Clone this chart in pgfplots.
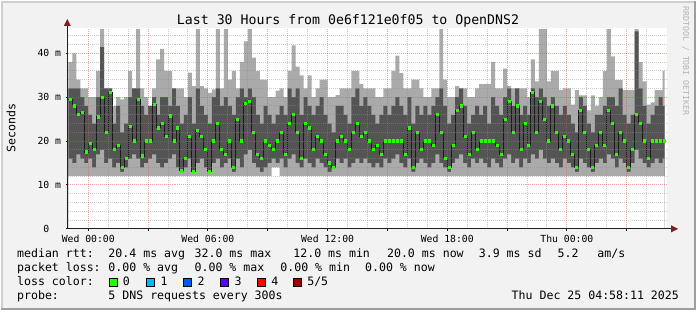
\documentclass[border=0pt]{standalone}
\usepackage{fontspec}
\setmainfont{DejaVu Sans Mono}
\usepackage{pgfplots}
\pgfplotsset{compat=1.18}
\usepackage{pgfplotstable}
\definecolor{bgc}{HTML}{F2F2F2}
\definecolor{shadea}{HTML}{CFCFCF}
\definecolor{shadeb}{HTML}{9E9E9E}
\definecolor{lightsmoke}{HTML}{AAAAAA}
\definecolor{darksmoke}{HTML}{545454}
\definecolor{medline}{HTML}{1A1A1A}
\definecolor{majgrid}{HTML}{DE4F4F}
\definecolor{mingrid}{HTML}{8F8F8F}
\definecolor{arrowc}{HTML}{801F1F}
\definecolor{axisc}{HTML}{1F1F1F}
\definecolor{lc0}{HTML}{26FF00}
\definecolor{lc1}{HTML}{00B8FF}
\definecolor{lc2}{HTML}{0059FF}
\definecolor{lc3}{HTML}{5E00FF}
\definecolor{lc4}{HTML}{FF0000}
\definecolor{lc5}{HTML}{A00000}
\definecolor{rrdtxt}{HTML}{B4B4B4}

\pgfplotstableread{
x lo q2 med q4 hi
-1.0 12 16 29.5 32 38
-0.8 12 15 28 32 40
-0.6 12 17 26 32 34
-0.4 12 16 26.5 30 32
-0.2 12 15 17.5 28 32
0.0 12 16 19.5 26 30
0.2 12 14 18 24 30
0.4 12 17 25.5 30 36
0.6 12 18 30 41.4 45.5
0.8 12 15 22 32 32
1.0 12 16 31 32 32
1.2 12 14 18 24 28
1.4 12 15 19 28 30
1.6 12 13 14 22 29.5
1.8 12 14 16 24 30
2.0 12 16 23.4 30 36
2.2 12 17 20 32 32
2.4 12 16 29.5 32 45.5
2.6 12 14 16.6 28 32
2.8 12 15 20 26 30
3.0 12 16 20 28 28
3.2 12 17 28.4 30 32
3.4 12 15 23 26 38.6
3.6 12 14 24 30 41
3.8 12 15 21 30 36
4.0 12 16 25.7 28 36
4.2 12 17 20 32 32
4.4 12 14 23 28 32
4.6 12 13 13.2 24 32
4.8 12 14 16 26 30
5.0 12 16 21 30 35.6
5.2 12 13 13 24 32.5
5.4 12 15 22.5 32 45.5
5.6 12 16 21 28 32.5
5.8 12 14 18 26 32
6.0 12 13 13 24 31
6.2 12 15 20 30 31.8
6.4 12 16 24 32 45.5
6.6 12 14 18 28 32
6.8 12 15 17 30 45.5
7.0 12 16 20 28 34
7.2 12 13 14 26 36
7.4 12 16 25 30 32
7.6 12 14 20 32 38
7.8 12 17 28.5 30 42.7
8.0 12 18 29 32 45.5
8.2 12 15 22 30 39
8.4 12 14 17 26 36
8.6 12 13 16 24 34
8.8 12 14 20 28 34
9.0 12 15 19 26 30
9.2 14 16 18 24 30
9.4 14 15 20 26 31.5
9.6 12 16 22 28 32
9.8 12 14 17 26 30
10.0 12 16 24 32 36
10.2 12 17 26 30 41.8
10.4 12 15 22 32 37
10.6 12 14 16 26 35
10.8 12 16 24 30 32
11.0 12 15 23 28 35
11.2 12 14 18 26 30
11.4 12 16 21 28 32
11.6 12 15 20 30 34
11.8 12 14 17 26 34
12.0 12 13 15 24 30
12.2 12 14 14 22 30
12.4 12 16 20 28 30.5
12.6 12 15 21 28 32
12.8 12 16 20 26 32
13.0 12 14 18 24 32
13.2 12 15 22 30 36
13.4 12 16 24 32 36
13.6 12 15 21 28 33
13.8 12 16 22 30 32
14.0 12 15 20 28 32
14.2 12 14 18 26 32
14.4 12 15 19 24 30
14.6 12 14 17 26 30
14.8 12 16 20 28 32
15.0 12 15 20 26 32
15.2 12 16 20 28 36
15.4 12 17 20 30 39.5
15.6 12 15 20 28 35.5
15.8 12 14 17 26 32
16.0 12 16 23 30 32
16.2 12 13 14 24 34
16.4 12 15 22 28 34
16.6 12 16 18 26 32
16.8 12 15 20 28 30
17.0 12 14 20 26 30
17.2 12 15 19 28 32
17.4 12 17 26 30 32
17.6 12 15 22 32 45.5
17.8 12 14 16 28 34
18.0 12 13 14 24 30
18.2 12 15 19 26 30
18.4 12 16 27 30 32.5
18.6 12 17 28 32 32
18.8 12 15 21 28 32
19.0 12 14 17 24 30
19.2 12 16 22 26 30
19.4 12 15 18 28 32
19.6 12 16 20 26 33
19.8 12 15 20 28 33
20.0 12 14 20 24 33
20.2 12 16 20 30 38
20.4 12 15 19 28 32
20.6 12 14 17 26 32
20.8 12 16 25 30 36.5
21.0 12 17 29 32 32.5
21.2 12 15 22 28 32
21.4 12 16 28 32 32
21.6 12 14 18 26 32
21.8 12 16 24 28 32
22.0 12 15 19 26 30
22.2 12 17 31 32 38.6
22.4 12 16 22 30 33.6
22.6 12 18 29 32 45.5
22.8 12 16 25 30 45.5
23.0 12 15 20 28 33.6
23.2 12 16 28 30 36
23.4 12 15 22 28 36
23.6 12 14 18 26 31.6
23.8 12 16 21 28 32
24.0 12 15 20 26 32
24.2 12 14 17 24 28.3
24.4 12 13 14 22 31.6
24.6 12 16 27 30 30.4
24.8 12 15 22 28 30.4
25.0 12 14 18 24 27
25.2 12 13 14 22 30.4
25.4 12 15 19 26 28
25.6 12 16 22 26 30
25.8 12 15 19 28 36
26.0 12 17 27 30 45.5
26.2 12 16 24 30 39.3
26.4 12 14 17 28 33.9
26.6 12 16 22 32 33.9
26.8 12 15 20 26 31.6
27.0 12 13 14 24 31.6
27.2 12 15 18 26 31.6
27.4 12 18 26 45 45.5
27.6 12 16 24 32 38
27.8 12 15 20 28 33.6
28.0 12 14 16 24 28.3
28.2 12 15 20 26 28.8
28.4 12 16 20 28 31.6
28.6 12 15 20 30 31.6
28.8 12 16 20 28 36
28.9 12 16 20 28 36
}\smoke

\newcommand{\lgfont}{\fontsize{11.6bp}{12bp}\selectfont}
\begin{document}
\begin{tikzpicture}[x=1bp,y=1bp]
\fill[bgc] (0,0) rectangle (697,310);
\draw[shadea, line width=2bp] (1,0) -- (1,309) -- (697,309);
\draw[shadeb, line width=2bp] (0,1) -- (696,1) -- (696,310);
\begin{axis}[
  at={(67.5bp,81.5bp)}, anchor=south west, scale only axis,
  width=600bp, height=201bp,
  xmin=-1, xmax=29, ymin=0, ymax=45.68,
  axis background/.style={fill=white},
  axis line style={draw=none},
  axis on top,
  xtick={0,3,6,9,12,15,18,21,24,27},
  xticklabels={Wed 00:00,,Wed 06:00,,Wed 12:00,,Wed 18:00,,Thu 00:00,},
  minor xtick={1,2,4,5,7,8,10,11,13,14,16,17,19,20,22,23,25,26,28},
  ytick={0,10,20,30,40},
  yticklabels={0\hphantom{00},10 m,20 m,30 m,40 m},
  minor ytick={2,4,6,8,12,14,16,18,22,24,26,28,32,34,36,38,42,44},
  xmajorgrids=true, xminorgrids=true, ymajorgrids=true, yminorgrids=true,
  major grid style={majgrid, opacity=0.5, line width=1bp, dash pattern=on 1bp off 1bp, dash phase=0.5bp},
  minor grid style={mingrid, opacity=0.45, line width=1bp, dash pattern=on 1bp off 1bp, dash phase=0.5bp},
  xtick pos=left, ytick pos=left,
  tick align=outside, major tick length=2bp, minor tick length=0bp,
  tick style={axisc, line width=1bp},
  ticklabel style={font=\fontsize{9.8bp}{11bp}\selectfont, inner sep=0pt},
  xticklabel style={anchor=base, yshift=-11.7bp},
  yticklabel style={anchor=base east, xshift=-5bp, yshift=-3.6bp},
  clip=true,
]
\addplot[const plot, fill=lightsmoke, draw=none] table[x=x, y=hi] {\smoke} \closedcycle;
\addplot[const plot, fill=darksmoke, draw=none] table[x=x, y=q4] {\smoke} \closedcycle;
\addplot[const plot, fill=lightsmoke, draw=none] table[x=x, y=q2] {\smoke} \closedcycle;
\addplot[const plot, fill=white, draw=none] table[x=x, y=lo] {\smoke} \closedcycle;
\addplot[const plot, medline, line width=1bp] table[x=x, y=med] {\smoke};
\addplot[only marks, mark=-, mark size=1.5bp, mark options={draw=lc0, line width=3.2bp},
  skip coords between index={150}{151}] table[x expr=\thisrow{x}+0.1, y=med] {\smoke};
\end{axis}
% axes with arrows
\draw[axisc, line width=1bp] (66.5,81.5) -- (673,81.5);
\fill[arrowc] (679,81.5) -- (672,85) -- (672,78) -- cycle;
\draw[axisc, line width=1bp] (66.5,81.5) -- (66.5,285);
\fill[arrowc] (66.5,292) -- (63,285) -- (70,285) -- cycle;
% title
\node[anchor=base, inner sep=0pt, font=\fontsize{13.25bp}{14bp}\selectfont] at (348,286) {Last 30 Hours from 0e6f121e0f05 to OpenDNS2};
\node[rotate=90, inner sep=0pt, font=\lgfont] at (10,183) {Seconds};
\node[rotate=-90, inner sep=0pt, text=rrdtxt, font=\fontsize{8.3bp}{9bp}\selectfont, anchor=base west] at (684,305) {RRDTOOL / TOBI OETIKER};
% legend
\begin{scope}[every node/.style={anchor=base west, inner sep=0pt, font=\lgfont}]
\node at (16,52.3) {median rtt:};
\node at (107.6,52.3) {20.4 ms avg};
\node at (194,52.3) {32.0 ms max};
\node at (293,52.3) {12.0 ms min};
\node at (387,52.3) {20.0 ms now};
\node at (479,52.3) {3.9 ms sd};
\node at (558,52.3) {5.2};
\node at (598,52.3) {am/s};
\node at (16,38.3) {packet loss:};
\node at (107.6,38.3) {0.00 \% avg};
\node at (194,38.3) {0.00 \% max};
\node at (280,38.3) {0.00 \% min};
\node at (365,38.3) {0.00 \% now};
\node at (16,24.3) {loss color:};
\node at (122,24.3) {0};
\node at (160,24.3) {1};
\node at (197,24.3) {2};
\node at (234,24.3) {3};
\node at (271,24.3) {4};
\node at (307,24.3) {5/5};
\node at (16,10.7) {probe:};
\node at (107.6,10.7) {5 DNS requests every 300s};
\node[anchor=base east] at (680,10.7) {Thu Dec 25 04:58:11 2025};
\end{scope}
\filldraw[fill=lc0, draw=black, line width=0.7bp] (109,24) rectangle (117,32);
\filldraw[fill=lc1, draw=black, line width=0.7bp] (146,24) rectangle (154,32);
\filldraw[fill=lc2, draw=black, line width=0.7bp] (183,24) rectangle (191,32);
\filldraw[fill=lc3, draw=black, line width=0.7bp] (220,24) rectangle (228,32);
\filldraw[fill=lc4, draw=black, line width=0.7bp] (257,24) rectangle (265,32);
\filldraw[fill=lc5, draw=black, line width=0.7bp] (293,24) rectangle (301,32);
\end{tikzpicture}
\end{document}
